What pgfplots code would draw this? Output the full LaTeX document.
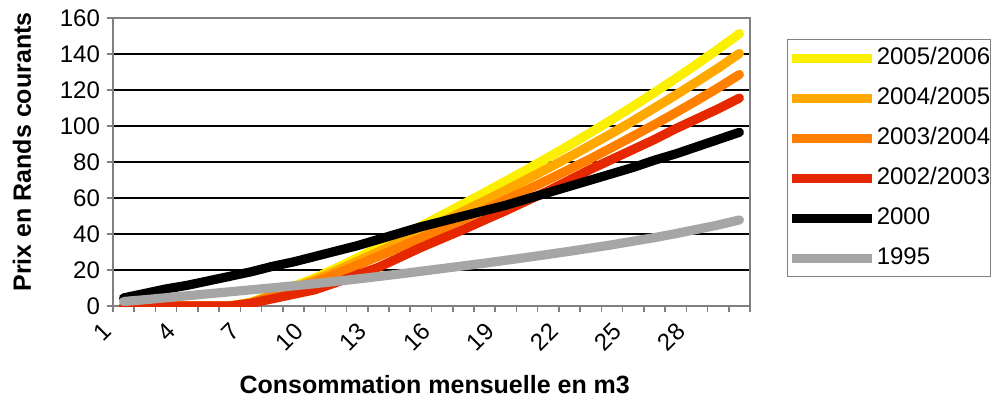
\documentclass[border=0pt]{standalone}
\usepackage{fontspec}
\setmainfont{Liberation Sans}
\usepackage{pgfplots}
\usepackage{pgfplotstable}
\pgfplotsset{compat=1.18}
\definecolor{cyellow}{RGB}{250,240,0}
\definecolor{clorange}{RGB}{255,168,0}
\definecolor{corange}{RGB}{255,128,0}
\definecolor{cred}{RGB}{230,40,0}
\definecolor{cgray}{RGB}{166,166,166}
\definecolor{axgray}{RGB}{128,128,128}

\pgfplotstableread{
x y
1 0
2 0
3 0
4 0
5 0
6 0
7 2
8 6.5
9 11
10 15.5
11 21
12 26.7
13 32.5
14 38.4
15 44.4
16 50.5
17 56.7
18 63
19 69.4
20 75.9
21 82.6
22 89.4
23 96.4
24 103.6
25 111
26 118.6
27 126.4
28 134.4
29 142.7
30 151.3
}\tyellow
\pgfplotstableread{
x y
1 0
2 0
3 0
4 0
5 0
6 0
7 1.9
8 6
9 10.2
10 14.4
11 19.5
12 24.8
13 30.1
14 35.6
15 41.2
16 46.8
17 52.6
18 58.4
19 64.3
20 70.4
21 76.6
22 82.9
23 89.4
24 96
25 102.9
26 110
27 117.2
28 124.6
29 132.2
30 140.3
}\tlorange
\pgfplotstableread{
x y
1 0
2 0
3 0
4 0
5 0
6 0
7 1.7
8 5.5
9 9.4
10 13.2
11 17.9
12 22.7
13 27.6
14 32.6
15 37.7
16 42.9
17 48.2
18 53.6
19 59
20 64.5
21 70.2
22 76
23 81.9
24 88.1
25 94.4
26 100.8
27 107.4
28 114.2
29 121.2
30 128.6
}\torange
\pgfplotstableread{
x y
1 0
2 0
3 0
4 0
5 0
6 0
7 1.5
8 4
9 6.5
10 9
11 13
12 17.3
13 21.5
14 27
15 32.5
16 37.5
17 42.5
18 47.8
19 53
20 58.5
21 64
22 70
23 76
24 81.5
25 87
26 92.5
27 98.5
28 104
29 109.5
30 115.5
}\tred
\pgfplotstableread{
x y
1 4.5
2 7
3 9.5
4 11.5
5 14
6 16.5
7 19
8 22
9 24.5
10 27.5
11 30.5
12 33.5
13 37
14 40.5
15 44
16 47
17 50
18 53
19 56
20 59.5
21 63
22 66.5
23 70
24 73.5
25 77
26 81
27 84.5
28 88.5
29 92.5
30 96.5
}\tblack
\pgfplotstableread{
x y
1 2.5
2 3.5
3 4.6
4 5.7
5 6.8
6 7.9
7 9
8 10.1
9 11.2
10 12.4
11 13.7
12 15
13 16.4
14 17.8
15 19.3
16 20.8
17 22.3
18 23.8
19 25.4
20 27
21 28.7
22 30.4
23 32.2
24 34
25 36
26 38
27 40.2
28 42.6
29 45
30 47.8
}\tgray

\begin{document}
\begin{tikzpicture}
\useasboundingbox (-56.5pt,-54pt) rectangle (443.5pt,153pt);
\begin{axis}[
  scale only axis, width=318.5pt, height=144pt,
  at={(0,0)}, anchor=south west,
  xmin=0.5, xmax=30.5, ymin=0, ymax=160,
  xtick={0.5,1.5,...,30.5}, xticklabels={},
  extra x ticks={1,4,7,10,13,16,19,22,25,28},
  extra x tick labels={1,4,7,10,13,16,19,22,25,28},
  extra x tick style={major tick length=0pt,
     tick label style={rotate=45, anchor=north east, xshift=-9.7pt, yshift=5.8pt, font=\fontsize{12}{14}\selectfont}},
  ytick={0,20,...,160},
  yticklabel style={font=\fontsize{12}{14}\selectfont},
  /pgf/number format/assume math mode=true,
  ymajorgrids, grid style={black, line width=0.9pt},
  axis line style={axgray, line width=0.8pt},
  tick style={axgray, line width=0.8pt},
  major tick length=3pt, tick align=outside, tick pos=left,
  xlabel={\bfseries Consommation mensuelle en m3},
  ylabel={\bfseries Prix en Rands courants},
  xlabel style={font=\fontsize{12.5}{14}\selectfont, at={(axis description cs:0.505,-0.274)}, anchor=center},
  ylabel style={font=\fontsize{12.5}{14}\selectfont, at={(axis description cs:-0.143,0.535)}, anchor=center},
  every axis plot/.append style={line width=4.6pt, line join=round, line cap=round},
  legend style={at={(axis description cs:1.058,0.927)}, anchor=north west,
     draw=axgray, line width=0.6pt, font=\fontsize{12}{14}\selectfont,
     inner xsep=0pt, inner ysep=3.5pt, row sep=8.5pt, column sep=0pt,
     nodes={inner sep=0pt, text height=9pt, text depth=2.5pt}},
  legend cell align=left,
  legend image code/.code={\draw[#1, line cap=butt] (0pt,0pt) -- (40pt,0pt);},
]
\addplot[cyellow] table[x=x,y=y] {\tyellow};
\addlegendentry{2005/2006}
\addplot[clorange] table[x=x,y=y] {\tlorange};
\addlegendentry{2004/2005}
\addplot[corange] table[x=x,y=y] {\torange};
\addlegendentry{2003/2004}
\addplot[cred] table[x=x,y=y] {\tred};
\addlegendentry{2002/2003}
\addplot[black] table[x=x,y=y] {\tblack};
\addlegendentry{2000}
\addplot[cgray] table[x=x,y=y] {\tgray};
\addlegendentry{1995}
\end{axis}
\end{tikzpicture}
\end{document}
